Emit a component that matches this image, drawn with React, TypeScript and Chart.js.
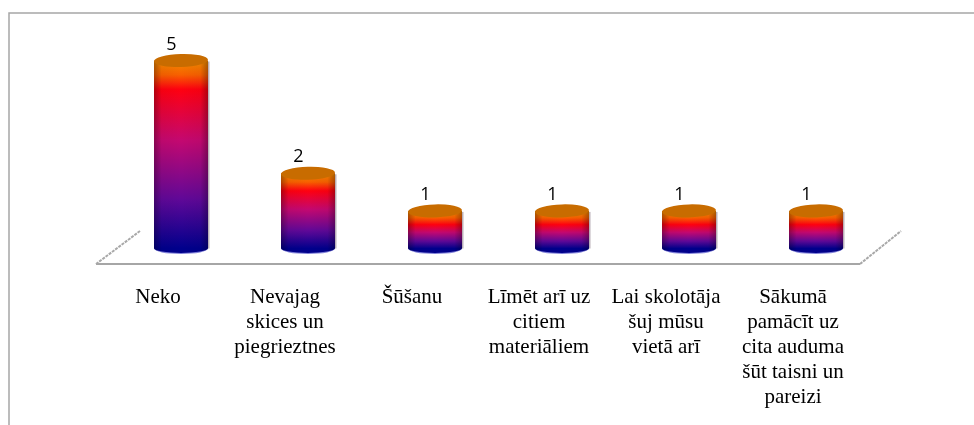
import React, { useEffect, useRef } from "react";
import { Chart, registerables } from "chart.js";

Chart.register(...registerables);

const categories: string[][] = [
  ["Neko"],
  ["Nevajag", "skices un", "piegrieztnes"],
  ["Šūšanu"],
  ["Līmēt arī uz", "citiem", "materiāliem"],
  ["Lai skolotāja", "šuj mūsu", "vietā arī"],
  ["Sākumā", "pamācīt uz", "cita auduma", "šūt taisni un", "pareizi"],
];
const answers: number[] = [5, 2, 1, 1, 1, 1];
const FRAME = "#a6a6a6";

function verticalFill(c: CanvasRenderingContext2D, top: number, base: number) {
  const h = base - top;
  const red = (10 + 0.1 * h) / h;
  const g = c.createLinearGradient(0, top, 0, base);
  g.addColorStop(0, "#f08c00");
  g.addColorStop(red * 0.5, "#f86000");
  g.addColorStop(red, "#ff0010");
  g.addColorStop(red + (1 - red) * 0.32, "#c40870");
  g.addColorStop(red + (1 - red) * 0.69, "#600898");
  g.addColorStop(1, "#00008c");
  return g;
}

const cylinders = {
  id: "cylinders",
  beforeDraw(chart: any) {
    const { ctx: c, width, height } = chart;
    c.save();
    c.fillStyle = "#ffffff";
    c.fillRect(0, 0, width, height);
    c.strokeStyle = FRAME;
    c.lineWidth = 1.5;
    c.beginPath();
    c.moveTo(9, height);
    c.lineTo(9, 13);
    c.lineTo(width, 13);
    c.stroke();

    c.lineWidth = 2;
    c.beginPath();
    c.moveTo(96, 264);
    c.lineTo(860, 264);
    c.stroke();
    c.lineWidth = 2;
    c.strokeStyle = "#a8a8a8";
    c.setLineDash([3, 1]);
    c.beginPath();
    c.moveTo(96, 264);
    c.lineTo(140, 231);
    c.moveTo(860, 264);
    c.lineTo(901, 231);
    c.stroke();
    c.restore();
  },
  beforeDatasetsDraw(chart: any) {
    const c = chart.ctx;
    chart.getDatasetMeta(0).data.forEach((el: any) => {
      const r = el.width / 2;
      c.save();
      // soft right-hand shadow of the cylinder
      c.fillStyle = "#b9b0b8";
      c.fillRect(el.x + r - 0.5, el.y + 1, 2, el.base - el.y - 1);
      // rounded base
      c.fillStyle = "#8080d8";
      c.beginPath();
      c.ellipse(el.x, el.base, r, 5.5, 0, 0, Math.PI * 2);
      c.fill();
      c.restore();
    });
  },
  afterDatasetsDraw(chart: any) {
    const c = chart.ctx;
    chart.getDatasetMeta(0).data.forEach((el: any, i: number) => {
      const r = el.width / 2;
      const left = el.x - r;
      c.save();
      // colour down the body
      c.save();
      c.beginPath();
      c.rect(left, el.y, el.width, el.base - el.y);
      c.ellipse(el.x, el.base - 0.5, r, 5, 0, 0, Math.PI);
      c.clip();
      c.fillStyle = verticalFill(c, el.y, el.base);
      c.fillRect(left, el.y, el.width, el.base - el.y + 6);
      // roundness: dark edges
      const s = c.createLinearGradient(left, 0, left + el.width, 0);
      s.addColorStop(0, "rgba(0,0,0,0.3)");
      s.addColorStop(0.14, "rgba(0,0,0,0.04)");
      s.addColorStop(0.5, "rgba(0,0,0,0)");
      s.addColorStop(0.86, "rgba(0,0,0,0.04)");
      s.addColorStop(1, "rgba(0,0,0,0.3)");
      c.fillStyle = s;
      c.fillRect(left, el.y, el.width, el.base - el.y + 6);
      c.restore();
      // top cap
      c.fillStyle = "#c86c00";
      c.beginPath();
      c.ellipse(el.x, el.y, r, 6.5, -0.03, 0, Math.PI * 2);
      c.fill();
      // value
      c.fillStyle = "#000000";
      c.font = "18px 'Open Sans'";
      c.textAlign = "center";
      c.textBaseline = "alphabetic";
      c.fillText(String(answers[i]), el.x - 9.5, el.y - 11);
      c.restore();
    });
  },
};

export default function App() {
  const ref = useRef<HTMLCanvasElement>(null);
  useEffect(() => {
    document.body.style.margin = "0";
    const chart = new Chart(ref.current!, {
      type: "bar",
      data: {
        labels: categories as any,
        datasets: [
          {
            data: answers,
            backgroundColor: "#b80878",
            borderWidth: 0,
            barPercentage: 0.425,
            categoryPercentage: 1,
          },
        ],
      },
      options: {
        animation: false,
        responsive: false,
        layout: { padding: { left: 117.5, right: 94.5, top: 60.5, bottom: 0 } },
        plugins: { legend: { display: false }, tooltip: { enabled: false } },
        scales: {
          x: {
            grid: { display: false },
            border: { display: false },
            ticks: {
              padding: 28,
              labelOffset: -23,
              maxRotation: 0,
              autoSkip: false,
              color: "#000000",
              font: { family: "'Liberation Serif'", size: 21, lineHeight: 1.2 },
            },
            afterFit(scale: any) {
              scale.height = 425 - 248.5;
            },
          },
          y: { display: false, min: 0, max: 5 },
        },
      },
      plugins: [cylinders],
    } as any);
    return () => chart.destroy();
  }, []);
  return <canvas ref={ref} width={974} height={425} style={{ display: "block" }} />;
}
